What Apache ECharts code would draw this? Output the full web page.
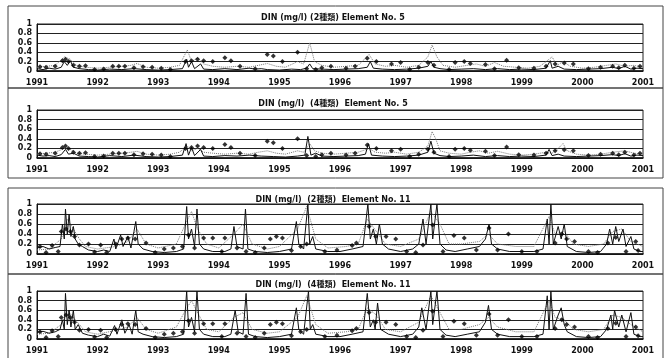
<!DOCTYPE html>
<html>
<head>
<meta charset="utf-8">
<script src="https://cdn.jsdelivr.net/npm/echarts@6/dist/echarts.min.js"></script>
<style>
  html, body { margin: 0; padding: 0; background: #fff; }
  #chart { width: 666px; height: 358px; }
</style>
</head>
<body>
<div id="chart"></div>
<script>
// tick labels
const yearTicks = [1991, 1992, 1993, 1994, 1995, 1996, 1997, 1998, 1999, 2000, 2001];
const titles = [
  'DIN (mg/l) (2種類) Element No. 5',
  'DIN (mg/l)  (4種類)  Element No. 5',
  'DIN (mg/l)  (2種類)  Element No. 11',
  'DIN (mg/l)  (4種類)  Element No. 11'
];

// Element No.5 observations (diamonds) [year, mg/l]
const obsE5 = [[1991.05,0.09],[1991.15,0.08],[1991.3,0.1],[1991.42,0.22],[1991.47,0.25],[1991.52,0.2],[1991.6,0.12],
  [1991.7,0.1],[1991.8,0.11],[1991.95,0.03],[1992.1,0.04],[1992.25,0.1],[1992.35,0.1],[1992.45,0.1],[1992.6,0.07],[1992.75,0.09],
  [1992.9,0.08],[1993.05,0.06],[1993.2,0.03],[1993.45,0.2],[1993.55,0.22],[1993.65,0.25],[1993.75,0.22],[1993.9,0.2],
  [1994.1,0.28],[1994.2,0.22],[1994.35,0.1],[1994.6,0.05],[1994.8,0.35],[1994.9,0.32],[1995.05,0.2],[1995.3,0.4],
  [1995.45,0.05],[1995.6,0.03],[1995.7,0.07],[1995.85,0.1],[1996.1,0.06],[1996.25,0.1],[1996.45,0.27],[1996.6,0.2],[1996.85,0.15],
  [1997.0,0.18],[1997.15,0.03],[1997.3,0.08],[1997.45,0.18],[1997.55,0.12],[1997.8,0.03],[1997.9,0.18],[1998.05,0.2],[1998.15,0.16],
  [1998.4,0.14],[1998.55,0.05],[1998.75,0.23],[1998.95,0.07],[1999.2,0.06],[1999.4,0.1],[1999.55,0.15],[1999.7,0.17],
  [1999.85,0.15],[2000.1,0.05],[2000.3,0.08],[2000.5,0.1],[2000.6,0.07],[2000.7,0.12],[2000.85,0.06],[2000.95,0.1]];

// Element No.5, 2種類 model
const solidE5a = [[1991.0,0.05],[1991.1,0.03],[1991.2,0.06],[1991.3,0.04],[1991.4,0.08],[1991.45,0.2],[1991.5,0.12],
  [1991.55,0.22],[1991.6,0.08],[1991.7,0.05],[1991.85,0.03],[1992.0,0.02],[1992.2,0.04],[1992.4,0.03],[1992.6,0.05],
  [1992.8,0.03],[1993.0,0.02],[1993.2,0.03],[1993.4,0.05],[1993.47,0.25],[1993.5,0.08],[1993.55,0.2],[1993.6,0.05],
  [1993.7,0.15],[1993.75,0.04],[1993.9,0.03],[1994.1,0.05],[1994.3,0.03],[1994.5,0.06],[1994.6,0.04],[1994.7,0.05],
  [1994.8,0.03],[1995.0,0.02],[1995.2,0.04],[1995.35,0.03],[1995.45,0.06],[1995.5,0.15],[1995.55,0.05],[1995.7,0.04],
  [1995.9,0.03],[1996.1,0.04],[1996.3,0.05],[1996.45,0.08],[1996.5,0.2],[1996.55,0.06],[1996.7,0.04],[1996.9,0.03],
  [1997.1,0.04],[1997.3,0.06],[1997.45,0.1],[1997.5,0.2],[1997.55,0.08],[1997.65,0.05],[1997.8,0.03],[1998.0,0.04],
  [1998.2,0.05],[1998.4,0.03],[1998.6,0.05],[1998.8,0.03],[1999.0,0.04],[1999.2,0.03],[1999.4,0.06],[1999.47,0.22],
  [1999.5,0.06],[1999.6,0.1],[1999.7,0.04],[1999.9,0.03],[2000.1,0.04],[2000.3,0.05],[2000.5,0.08],[2000.6,0.05],
  [2000.7,0.1],[2000.8,0.04],[2000.9,0.06],[2001.0,0.05]];
const dotE5a = [[1991.0,0.08],[1991.15,0.1],[1991.3,0.12],[1991.45,0.3],[1991.55,0.25],[1991.65,0.12],[1991.8,0.08],
  [1992.0,0.06],[1992.2,0.08],[1992.4,0.1],[1992.55,0.12],[1992.65,0.16],[1992.8,0.08],[1993.0,0.06],[1993.2,0.08],
  [1993.35,0.12],[1993.48,0.45],[1993.55,0.2],[1993.65,0.28],[1993.75,0.15],[1993.9,0.1],[1994.1,0.08],[1994.3,0.1],
  [1994.5,0.08],[1994.65,0.12],[1994.8,0.16],[1994.95,0.1],[1995.1,0.08],[1995.3,0.2],[1995.4,0.15],[1995.5,0.6],
  [1995.58,0.2],[1995.7,0.12],[1995.9,0.08],[1996.1,0.1],[1996.3,0.12],[1996.48,0.35],[1996.58,0.15],[1996.75,0.1],
  [1996.9,0.12],[1997.1,0.08],[1997.3,0.12],[1997.45,0.3],[1997.52,0.55],[1997.6,0.3],[1997.7,0.12],[1997.9,0.08],
  [1998.1,0.12],[1998.25,0.15],[1998.4,0.1],[1998.55,0.18],[1998.7,0.1],[1998.9,0.08],[1999.1,0.06],[1999.3,0.1],
  [1999.45,0.25],[1999.5,0.3],[1999.58,0.12],[1999.68,0.2],[1999.8,0.1],[2000.0,0.06],[2000.2,0.08],[2000.4,0.12],
  [2000.55,0.15],[2000.7,0.1],[2000.85,0.12],[2001.0,0.08]];

// Element No.5, 4種類 model
const solidE5b = [[1991.0,0.06],[1991.1,0.04],[1991.2,0.05],[1991.3,0.03],[1991.4,0.07],[1991.47,0.18],[1991.52,0.08],
  [1991.6,0.1],[1991.7,0.04],[1991.85,0.03],[1992.0,0.02],[1992.2,0.05],[1992.4,0.03],[1992.6,0.06],[1992.8,0.03],
  [1993.0,0.02],[1993.2,0.03],[1993.4,0.06],[1993.46,0.3],[1993.5,0.06],[1993.55,0.22],[1993.6,0.05],[1993.7,0.18],
  [1993.75,0.04],[1993.9,0.03],[1994.1,0.05],[1994.3,0.04],[1994.5,0.06],[1994.7,0.04],[1994.9,0.03],[1995.1,0.02],
  [1995.3,0.04],[1995.42,0.06],[1995.47,0.45],[1995.52,0.06],[1995.6,0.1],[1995.7,0.04],[1995.9,0.03],[1996.1,0.04],
  [1996.3,0.05],[1996.42,0.08],[1996.47,0.3],[1996.52,0.06],[1996.7,0.04],[1996.9,0.03],[1997.1,0.04],[1997.3,0.06],
  [1997.45,0.12],[1997.5,0.35],[1997.55,0.1],[1997.65,0.05],[1997.8,0.03],[1998.0,0.04],[1998.2,0.06],[1998.4,0.03],
  [1998.6,0.05],[1998.8,0.03],[1999.0,0.04],[1999.2,0.03],[1999.4,0.06],[1999.45,0.18],[1999.5,0.05],[1999.6,0.08],
  [1999.7,0.04],[1999.9,0.03],[2000.1,0.04],[2000.3,0.05],[2000.5,0.07],[2000.6,0.05],[2000.7,0.09],[2000.8,0.04],
  [2000.9,0.06],[2001.0,0.05]];
const dotE5b = [[1991.0,0.08],[1991.15,0.1],[1991.3,0.12],[1991.45,0.2],[1991.55,0.18],[1991.65,0.1],[1991.8,0.08],
  [1992.0,0.06],[1992.2,0.08],[1992.4,0.1],[1992.55,0.12],[1992.65,0.14],[1992.8,0.08],[1993.0,0.06],[1993.2,0.08],
  [1993.35,0.12],[1993.48,0.25],[1993.55,0.15],[1993.65,0.2],[1993.75,0.12],[1993.9,0.1],[1994.1,0.08],[1994.3,0.1],
  [1994.5,0.08],[1994.65,0.12],[1994.8,0.15],[1994.95,0.1],[1995.1,0.08],[1995.3,0.15],[1995.4,0.12],[1995.5,0.3],
  [1995.58,0.15],[1995.7,0.1],[1995.9,0.08],[1996.1,0.1],[1996.3,0.12],[1996.48,0.2],[1996.58,0.12],[1996.75,0.1],
  [1996.9,0.12],[1997.1,0.08],[1997.3,0.12],[1997.45,0.25],[1997.52,0.55],[1997.58,0.4],[1997.65,0.15],[1997.8,0.1],
  [1998.0,0.08],[1998.15,0.12],[1998.3,0.15],[1998.45,0.1],[1998.6,0.14],[1998.8,0.08],[1999.0,0.06],[1999.2,0.08],
  [1999.4,0.12],[1999.5,0.1],[1999.6,0.2],[1999.68,0.3],[1999.75,0.15],[1999.9,0.08],[2000.1,0.06],[2000.3,0.08],
  [2000.5,0.12],[2000.7,0.15],[2000.85,0.1],[2001.0,0.08]];

// Element No.11 observations
const obsE11 = [[1991.05,0.15],[1991.15,0.03],[1991.25,0.17],[1991.35,0.05],[1991.4,0.45],[1991.48,0.5],[1991.55,0.45],
  [1991.62,0.35],[1991.7,0.18],[1991.85,0.2],[1991.95,0.04],[1992.05,0.18],[1992.15,0.03],[1992.3,0.2],[1992.4,0.3],[1992.5,0.32],
  [1992.62,0.3],[1992.8,0.22],[1992.95,0.03],[1993.1,0.1],[1993.25,0.12],[1993.4,0.15],[1993.5,0.38],[1993.6,0.12],
  [1993.75,0.32],[1993.9,0.32],[1994.05,0.05],[1994.1,0.32],[1994.3,0.12],[1994.45,0.05],[1994.6,0.03],[1994.75,0.12],[1994.85,0.3],
  [1994.95,0.35],[1995.05,0.32],[1995.2,0.07],[1995.35,0.15],[1995.45,0.2],[1995.75,0.05],[1995.95,0.08],[1996.2,0.17],
  [1996.27,0.22],[1996.48,0.55],[1996.59,0.35],[1996.76,0.35],[1996.92,0.3],[1997.1,0.05],[1997.25,0.03],[1997.37,0.18],[1997.53,0.58],
  [1997.7,0.05],[1997.88,0.37],[1998.05,0.32],[1998.25,0.08],[1998.46,0.52],[1998.6,0.08],[1998.78,0.4],[1999.0,0.05],
  [1999.25,0.05],[1999.55,0.22],[1999.66,0.4],[1999.74,0.3],[1999.87,0.25],[2000.1,0.05],[2000.25,0.03],[2000.42,0.22],[2000.55,0.33],
  [2000.72,0.05],[2000.88,0.25],[2000.92,0.07]];

// Element No.11, 2種類 model
const solidE11a = [[1991.0,0.12],[1991.1,0.15],[1991.2,0.1],[1991.3,0.13],[1991.38,0.15],[1991.42,0.6],[1991.45,0.3],
  [1991.47,0.9],[1991.5,0.4],[1991.53,0.8],[1991.56,0.35],[1991.6,0.55],[1991.63,0.3],[1991.68,0.2],[1991.75,0.15],
  [1991.85,0.08],[1992.0,0.05],[1992.1,0.08],[1992.2,0.05],[1992.27,0.3],[1992.3,0.1],[1992.38,0.38],[1992.42,0.15],
  [1992.5,0.35],[1992.55,0.12],[1992.6,0.45],[1992.63,0.65],[1992.67,0.2],[1992.75,0.1],[1992.9,0.05],[1993.1,0.03],
  [1993.3,0.05],[1993.42,0.1],[1993.47,0.95],[1993.5,0.3],[1993.55,0.5],[1993.6,0.15],[1993.64,0.9],[1993.68,0.2],
  [1993.75,0.1],[1993.9,0.05],[1994.1,0.05],[1994.2,0.1],[1994.25,0.55],[1994.3,0.15],[1994.4,0.1],[1994.44,0.9],
  [1994.48,0.1],[1994.6,0.05],[1994.8,0.03],[1995.0,0.05],[1995.2,0.1],[1995.28,0.65],[1995.32,0.2],[1995.4,0.1],
  [1995.47,1.0],[1995.5,0.2],[1995.55,0.35],[1995.6,0.1],[1995.8,0.05],[1996.0,0.05],[1996.2,0.1],[1996.38,0.15],
  [1996.46,1.0],[1996.5,0.3],[1996.55,0.5],[1996.6,0.2],[1996.65,0.6],[1996.7,0.2],[1996.8,0.1],[1997.0,0.05],
  [1997.2,0.1],[1997.3,0.2],[1997.37,0.7],[1997.42,0.2],[1997.5,1.0],[1997.53,0.3],[1997.6,1.0],[1997.65,0.2],
  [1997.75,0.08],[1997.9,0.05],[1998.1,0.1],[1998.3,0.15],[1998.4,0.3],[1998.46,0.6],[1998.5,0.2],[1998.6,0.1],
  [1998.8,0.05],[1999.0,0.05],[1999.2,0.05],[1999.35,0.1],[1999.42,0.7],[1999.45,0.2],[1999.48,1.0],[1999.52,0.2],
  [1999.6,0.55],[1999.65,0.3],[1999.7,0.6],[1999.75,0.15],[1999.9,0.05],[2000.1,0.03],[2000.3,0.05],[2000.4,0.2],
  [2000.45,0.5],[2000.5,0.2],[2000.55,0.55],[2000.6,0.25],[2000.67,0.5],[2000.72,0.15],[2000.8,0.35],[2000.85,0.1],
  [2000.95,0.05],[2001.0,0.05]];
const dotE11a = [[1991.0,0.08],[1991.2,0.1],[1991.4,0.3],[1991.5,0.7],[1991.6,0.5],[1991.7,0.3],[1991.8,0.15],
  [1992.0,0.1],[1992.3,0.15],[1992.5,0.25],[1992.65,0.5],[1992.8,0.2],[1993.0,0.12],[1993.3,0.2],[1993.45,0.6],
  [1993.55,0.85],[1993.65,0.5],[1993.8,0.2],[1994.0,0.12],[1994.25,0.4],[1994.4,0.6],[1994.55,0.2],[1994.8,0.1],
  [1995.0,0.15],[1995.3,0.5],[1995.45,0.95],[1995.6,0.3],[1995.8,0.12],[1996.1,0.15],[1996.3,0.2],[1996.45,0.7],
  [1996.6,0.45],[1996.75,0.2],[1997.0,0.15],[1997.3,0.3],[1997.5,0.85],[1997.65,0.6],[1997.8,0.2],[1998.0,0.2],
  [1998.3,0.25],[1998.45,0.4],[1998.6,0.2],[1998.9,0.15],[1999.2,0.15],[1999.45,0.75],[1999.55,0.4],[1999.7,0.45],
  [1999.85,0.2],[2000.1,0.15],[2000.35,0.2],[2000.5,0.45],[2000.65,0.5],[2000.8,0.25],[2001.0,0.15]];

// Element No.11, 4種類 model
const solidE11b = [[1991.0,0.14],[1991.1,0.16],[1991.2,0.12],[1991.3,0.15],[1991.38,0.2],[1991.42,0.4],[1991.45,0.2],
  [1991.47,0.95],[1991.5,0.3],[1991.53,0.6],[1991.56,0.25],[1991.6,0.6],[1991.63,0.2],[1991.68,0.3],[1991.75,0.12],
  [1991.85,0.08],[1992.0,0.05],[1992.1,0.1],[1992.2,0.06],[1992.28,0.28],[1992.32,0.1],[1992.4,0.4],[1992.45,0.12],
  [1992.52,0.3],[1992.57,0.1],[1992.63,0.6],[1992.67,0.15],[1992.75,0.1],[1992.9,0.05],[1993.1,0.03],[1993.3,0.05],
  [1993.42,0.1],[1993.47,1.0],[1993.5,0.25],[1993.55,0.45],[1993.6,0.15],[1993.64,1.0],[1993.68,0.2],[1993.75,0.1],
  [1993.9,0.05],[1994.1,0.05],[1994.2,0.1],[1994.27,0.6],[1994.32,0.15],[1994.4,0.1],[1994.45,0.95],[1994.49,0.1],
  [1994.6,0.05],[1994.8,0.03],[1995.0,0.05],[1995.2,0.1],[1995.28,0.65],[1995.32,0.2],[1995.4,0.1],[1995.48,1.0],
  [1995.51,0.2],[1995.55,0.3],[1995.6,0.1],[1995.8,0.05],[1996.0,0.05],[1996.2,0.1],[1996.38,0.15],[1996.45,0.95],
  [1996.5,0.25],[1996.55,0.4],[1996.58,0.2],[1996.62,0.75],[1996.67,0.2],[1996.8,0.1],[1997.0,0.05],[1997.2,0.1],
  [1997.3,0.25],[1997.35,0.65],[1997.42,0.2],[1997.5,1.0],[1997.53,0.3],[1997.6,1.0],[1997.65,0.2],[1997.75,0.08],
  [1997.9,0.05],[1998.1,0.1],[1998.3,0.15],[1998.4,0.35],[1998.45,0.7],[1998.5,0.2],[1998.6,0.1],[1998.8,0.05],
  [1999.0,0.05],[1999.2,0.05],[1999.35,0.1],[1999.42,0.9],[1999.45,0.2],[1999.48,1.0],[1999.52,0.2],[1999.6,0.5],
  [1999.65,0.65],[1999.7,0.3],[1999.75,0.15],[1999.9,0.05],[2000.1,0.03],[2000.3,0.05],[2000.4,0.2],[2000.47,0.5],
  [2000.5,0.2],[2000.53,0.6],[2000.6,0.25],[2000.65,0.5],[2000.72,0.15],[2000.8,0.55],[2000.85,0.1],[2000.95,0.05],
  [2001.0,0.05]];
const dotE11b = [[1991.0,0.1],[1991.2,0.12],[1991.4,0.3],[1991.5,0.6],[1991.6,0.45],[1991.7,0.3],[1991.8,0.15],
  [1992.0,0.1],[1992.3,0.18],[1992.5,0.25],[1992.65,0.45],[1992.8,0.2],[1993.0,0.12],[1993.3,0.25],[1993.45,0.6],
  [1993.55,0.8],[1993.65,0.55],[1993.8,0.2],[1994.0,0.15],[1994.25,0.45],[1994.4,0.55],[1994.55,0.2],[1994.8,0.12],
  [1995.0,0.15],[1995.3,0.45],[1995.45,0.9],[1995.6,0.3],[1995.8,0.12],[1996.1,0.15],[1996.3,0.2],[1996.45,0.65],
  [1996.6,0.5],[1996.75,0.2],[1997.0,0.15],[1997.3,0.35],[1997.5,0.9],[1997.65,0.55],[1997.8,0.2],[1998.0,0.2],
  [1998.3,0.3],[1998.45,0.45],[1998.6,0.25],[1998.9,0.15],[1999.2,0.15],[1999.45,0.8],[1999.55,0.45],[1999.7,0.4],
  [1999.85,0.2],[2000.1,0.15],[2000.35,0.2],[2000.5,0.5],[2000.65,0.45],[2000.8,0.3],[2001.0,0.15]];

const panels = [
  { solid: solidE5a, dotted: dotE5a, obs: obsE5 },
  { solid: solidE5b, dotted: dotE5b, obs: obsE5 },
  { solid: solidE11a, dotted: dotE11a, obs: obsE11 },
  { solid: solidE11b, dotted: dotE11b, obs: obsE11 }
];

// layout of the four panels
const gridTops = [24, 110, 204, 291];
const gridHeights = [47, 48, 50, 48];
const titleTops = [9, 95, 191, 276];
const frames = [[8, 6, 655, 82], [8, 88, 655, 90], [8, 188, 655, 86], [8, 274, 655, 90]];

const font = '"DejaVu Sans", "Noto Sans CJK JP", sans-serif';
const chart = echarts.init(document.getElementById('chart'), null, { renderer: 'canvas' });

const grid = [], xAxis = [], yAxis = [], title = [], series = [];
panels.forEach((p, i) => {
  grid.push({ left: 37, width: 606, top: gridTops[i], height: gridHeights[i],
    show: true, borderColor: '#222', borderWidth: 1, backgroundColor: 'transparent' });
  title.push({ text: titles[i], left: 'center', top: titleTops[i],
    textStyle: { fontFamily: font, fontSize: 8, fontWeight: 'bold', color: '#111' } });
  xAxis.push({ type: 'value', gridIndex: i, min: yearTicks[0], max: yearTicks[yearTicks.length - 1], interval: 1,
    axisLine: { show: true, lineStyle: { color: '#111', width: 1.5 } },
    axisTick: { show: false }, splitLine: { show: false },
    axisLabel: { margin: 8, fontFamily: font, fontSize: 8, fontWeight: 'bold', color: '#111',
      formatter: v => String(v) } });
  yAxis.push({ type: 'value', gridIndex: i, min: 0, max: 1, interval: 0.2,
    axisLine: { show: true, lineStyle: { color: '#111' } }, axisTick: { show: false },
    splitLine: { show: true, lineStyle: { color: '#222', width: 1 } },
    axisLabel: { margin: 5, fontFamily: font, fontSize: 8, fontWeight: 'bold', color: '#111',
      formatter: v => (v === 0 ? '0' : v === 1 ? '1' : v.toFixed(1)) } });
  series.push({ type: 'line', xAxisIndex: i, yAxisIndex: i, data: p.dotted, showSymbol: false,
    lineStyle: { color: '#777', width: 1, type: 'dotted' }, z: 2, animation: false });
  series.push({ type: 'line', xAxisIndex: i, yAxisIndex: i, data: p.solid, showSymbol: false,
    lineStyle: { color: '#111', width: 1 }, z: 3, animation: false });
  series.push({ type: 'scatter', xAxisIndex: i, yAxisIndex: i, data: p.obs, symbol: 'diamond', symbolSize: 5,
    itemStyle: { color: '#000' }, z: 4, animation: false });
});

chart.setOption({
  backgroundColor: '#fff',
  animation: false,
  title, grid, xAxis, yAxis, series,
  graphic: frames.map(f => ({ type: 'rect', shape: { x: f[0], y: f[1], width: f[2], height: f[3] },
    style: { fill: 'none', stroke: '#444', lineWidth: 1 }, silent: true }))
});
</script>
</body>
</html>
